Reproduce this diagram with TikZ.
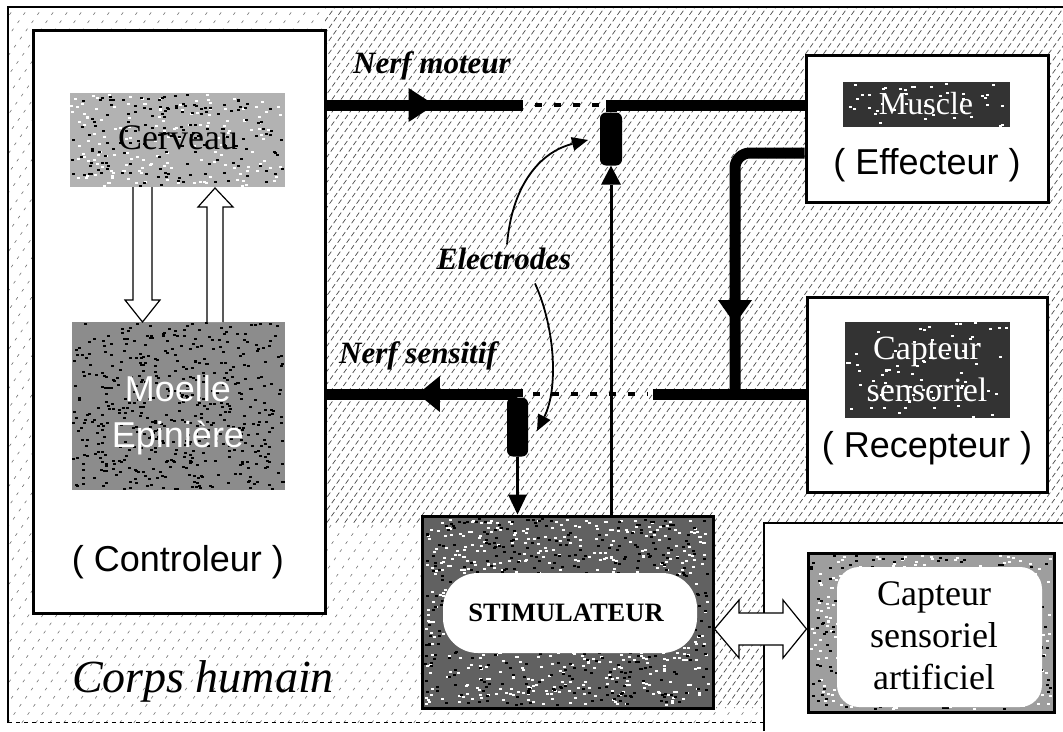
\documentclass[tikz,border=0pt]{standalone}
\usepackage{fontspec}
\setmainfont{Liberation Serif}
\setsansfont{Liberation Sans}
\usetikzlibrary{arrows.meta,decorations.markings}
\tikzset{
  hatchS/.style={black!55, line width=0.6pt, dash pattern=on 3pt off 7pt},
  hatchD/.style={black!70, line width=0.7pt, dash pattern=on 5pt off 3pt},
  box/.style={draw=black, line width=3pt, fill=white, inner sep=0pt},
  patch/.style={inner sep=0pt},
  nerve/.style={line width=11pt},
  dotnerve/.style={line width=4pt, dash pattern=on 7pt off 12pt},
  wire/.style={line width=3pt},
  hollow/.style={draw=black, line width=1.2pt, fill=white},
  lbl/.style={font=\fontsize{31}{31}\selectfont\bfseries\itshape},
  sanstxt/.style={font=\sffamily\fontsize{36}{46}\selectfont, align=center},
  seriftxt/.style={font=\fontsize{34}{42}\selectfont, align=center},
  cervtxt/.style={font=\fontsize{36}{36}\selectfont},
  mustxt/.style={font=\fontsize{32}{32}\selectfont},
  electrode/.style={fill=black, rounded corners=6pt, inner sep=0pt},
  curvearrow/.style={line width=1.8pt, -{Triangle[length=16pt,width=14pt,line width=0pt]}}
}
\newcommand\myspecks[6]{%
  \foreach \i in {1,...,#6}{%
    \pgfmathsetmacro\px{#1+(#3-3)*rnd}%
    \pgfmathsetmacro\py{#2+(#4-2)*rnd}%
    \fill[#5] (\px,\py) rectangle ++(3,2);}}
\begin{document}
\begin{tikzpicture}[x=1pt,y=-1pt]
\pgfmathsetseed{7}
\useasboundingbox (0,0) rectangle (1063,731);
% ---------- hatched background ----------
\begin{scope}
  \clip (8,7) rectangle (1063,723);
  \foreach \k in {-600,-586,...,1100} \draw[hatchS] (\k,731) -- ++(522,-731);
\end{scope}
\begin{scope}
  \clip (325,7) rectangle (1063,523) (713,516) rectangle (764,708);
  \fill[white] (325,7) rectangle (1063,523) (713,516) rectangle (764,708);
  \foreach \k in {-560,-551,...,1100} \draw[hatchD] (\k,731) -- ++(522,-731);
\end{scope}
% white region bottom right
\fill[white] (764,523) rectangle (1063,731);
\draw[line width=1.2pt] (764,731) -- (764,523) -- (1063,523);
% frame
\draw[line width=2.5pt] (8,723) -- (8,7) -- (1063,7);
\draw[line width=1pt, dash pattern=on 4pt off 4pt] (8,722) -- (764,722);

% ---------- controleur ----------
\node[box, minimum width=292, minimum height=583] (ctrl) at (179,321.5) {};
\node[patch, fill=black!30, minimum width=215, minimum height=94] (cerv) at (177.5,140) {};
\myspecks{70}{93}{215}{94}{white}{160}
\myspecks{70}{93}{215}{94}{black}{160}
\node[cervtxt] (cervTxt) at (178,138) {Cerveau};
\node[patch, fill=black!45, minimum width=213, minimum height=168] (moel) at (178.5,406) {};
\myspecks{72}{322}{213}{168}{black}{500}
\node[sanstxt, text=white] (moelTxt) at (178,415) {Moelle\\Epinière};
\node[sanstxt] (ctrlTxt) at (178,562) {( Controleur )};
% hollow arrows
\draw[hollow] (133,187) -- (133,300) -- (125,300) -- (142.5,322) -- (160,300) -- (152,300) -- (152,187);
\draw[hollow] (207,322) -- (207,207) -- (198,207) -- (215,188) -- (233,207) -- (223,207) -- (223,322);

\node[font=\fontsize{46}{46}\selectfont\itshape, anchor=base] (corps) at (203,692) {Corps humain};

% ---------- muscle ----------
\node[box, minimum width=242, minimum height=147] (mus) at (927,128.5) {};
\node[patch, fill=black!80, minimum width=167, minimum height=45] (musP) at (926.5,104.5) {};
\myspecks{843}{82}{167}{45}{white}{40}
\node[mustxt, text=white] (musTxt) at (926,104) {Muscle};
\node[sanstxt] (effTxt) at (927,165) {( Effecteur )};

% ---------- recepteur ----------
\node[box, minimum width=240, minimum height=195] (rec) at (927,394.5) {};
\node[patch, fill=black!80, minimum width=165, minimum height=96] (recP) at (927.5,370) {};
\myspecks{845}{322}{165}{96}{white}{70}
\node[seriftxt, text=white] (recTxt) at (927,369) {Capteur\\sensoriel};
\node[sanstxt] (recLbl) at (927,448) {( Recepteur )};

% ---------- stimulateur ----------
\node[box, fill=black!62, minimum width=291, minimum height=192] (stim) at (567.5,612) {};
\myspecks{424}{518}{287}{188}{white}{650}
\myspecks{424}{518}{287}{188}{black}{500}
\node[fill=white, rounded corners=35pt, minimum width=254, minimum height=80, inner sep=0pt] (stimIn) at (570,613) {};
\node[font=\fontsize{26.5}{26.5}\selectfont\bfseries] (stimTxt) at (566,613) {STIMULATEUR};

% ---------- capteur artificiel ----------
\node[draw=black, line width=3pt, fill=black!38, minimum width=246, minimum height=159, inner sep=0pt] (art) at (931,632.5) {};
\myspecks{810}{555}{242}{155}{white}{450}
\myspecks{810}{555}{242}{155}{black}{250}
\node[fill=white, rounded corners=22pt, minimum width=205, minimum height=140, inner sep=0pt] (artIn) at (939.5,637) {};
\node[font=\fontsize{36}{42}\selectfont, align=center] (artTxt) at (934,636) {Capteur\\sensoriel\\artificiel};

% double hollow arrow
\coordinate (da1) at (stim.east |- 0,629);
\coordinate (da2) at (art.west |- 0,629);
\draw[hollow] (da1) -- (739,600) -- (739,613) -- (783,613) -- (783,600) -- (da2)
  -- (783,658) -- (783,645) -- (739,645) -- (739,658) -- cycle;

% ---------- electrodes ----------
\node[electrode, minimum width=22, minimum height=53] (elecM) at (611,139) {};
\node[electrode, minimum width=21, minimum height=59] (elecS) at (517.5,427) {};

% ---------- nerves ----------
\coordinate (mL) at (523,105);
\coordinate (mJ) at (611,105);
\coordinate (mD1) at (535,105);
\coordinate (mD2) at (600,105);
\coordinate (sJ) at (517.5,394);
\coordinate (sD1) at (533,394);
\coordinate (sD2) at (648,394);
\coordinate (sR) at (653,394);
\coordinate (fb) at (735,394);

\draw[nerve, postaction={decorate, decoration={markings,
      mark=at position 0.55 with {\arrow{Triangle[length=26pt,width=34pt,line width=0pt]}}}}]
  (ctrl.east |- mL) -- (mL);
\draw[dotnerve] (mD1) -- (mD2);
\draw[nerve] (elecM.north) -- (mJ) -- (mus.west |- mJ);

\draw[nerve, postaction={decorate, decoration={markings,
      mark=at position 0.53 with {\arrow{Triangle[length=22pt,width=36pt,line width=0pt]}}}}]
  (elecS.north) -- (sJ) -- (ctrl.east |- sJ);
\draw[dotnerve] (sD1) -- (sD2);
\draw[nerve] (rec.west |- sR) -- (sR);
\draw[nerve, rounded corners=15pt, postaction={decorate, decoration={markings,
      mark=at position 0.77 with {\arrow{Triangle[length=24pt,width=34pt,line width=0pt]}}}}]
  (mus.west |- 0,153) -| (fb);

% wires from/to stimulator
\draw[wire, -{Triangle[length=19pt,width=20pt,line width=0pt]}] (elecM.south |- stim.north) -- (elecM.south);
\draw[wire, -{Triangle[length=20pt,width=19pt,line width=0pt]}] (elecS.south) -- (elecS.south |- stim.north);

% ---------- labels ----------
\node[lbl] (nmLbl) at (432,66) {Nerf moteur};
\node[lbl] (nsLbl) at (418,356) {Nerf sensitif};
\node[lbl] (elab) at (504,259) {Electrodes};
\coordinate (eM) at (588,140);
\coordinate (eS) at (537,431);
\draw[curvearrow] ([xshift=3pt]elab.north) .. controls (512,185) and (540,152) .. (eM);
\draw[curvearrow] ([xshift=31pt,yshift=-10pt]elab.south) .. controls (556,330) and (558,390) .. (eS);
\end{tikzpicture}
\end{document}
